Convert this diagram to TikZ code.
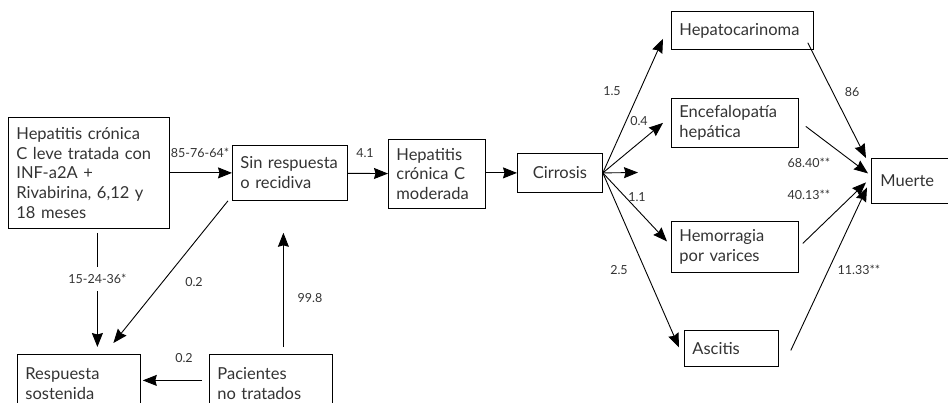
\documentclass[tikz,border=0pt]{standalone}
\usepackage{fontspec}
\setmainfont{Lato}
\definecolor{txGris}{HTML}{333333}
\usetikzlibrary{arrows.meta}

\begin{document}
\begin{tikzpicture}[x=1pt, y=-1pt,
    caja/.style={draw, line width=0.8pt, anchor=north west, align=left,
      inner xsep=8pt, text=txGris, font=\fontsize{16.5}{19.8}\selectfont},
    etiq/.style={text=txGris, inner sep=1pt, font=\fontsize{12.5}{14}\selectfont},
    flecha/.style={line width=0.9pt, -{Stealth[length=14pt, width=11pt, inset=1.5pt]}}]
  \useasboundingbox (0,0) rectangle (948,402);
  \clip (0,0) rectangle (948,402);

  % estados
  \node[caja, minimum width=161pt, minimum height=111pt, text width=145pt] (leve) at (8,117)
    {Hepatitis crónica\\C leve tratada con\\INF-a2A +\\Rivabirina, 6,12 y\\18 meses};
  \node[caja, minimum width=115pt, minimum height=55pt, text width=99pt] (sinr) at (232,145)
    {Sin respuesta\\o recidiva};
  \node[caja, minimum width=97pt, minimum height=69pt, text width=81pt] (mode) at (388,139)
    {Hepatitis\\crónica C\\moderada};
  \node[caja, minimum width=85pt, minimum height=39pt, text width=69pt, align=center] (cirr) at (517,153)
    {Cirrosis};
  \node[caja, minimum width=142pt, minimum height=38pt, text width=126pt] (hepa) at (671,11)
    {Hepatocarinoma};
  \node[caja, minimum width=127pt, minimum height=49pt, text width=111pt] (ence) at (671,98)
    {Encefalopatía\\hepática};
  \node[caja, minimum width=127pt, minimum height=51pt, text width=111pt] (hemo) at (671,221)
    {Hemorragia\\por varices};
  \node[caja, minimum width=94pt, minimum height=36pt, text width=78pt] (asci) at (684,330)
    {Ascitis};
  \node[caja, minimum width=95pt, minimum height=45pt, text width=79pt, inner xsep=9pt] (muer) at (871,158)
    {Muerte};
  \node[caja, minimum width=123pt, minimum height=58pt, text width=107pt] (resp) at (17,354)
    {Respuesta\\sostenida};
  \node[caja, minimum width=123pt, minimum height=58pt, text width=107pt] (paci) at (209,354)
    {Pacientes\\no tratados};
  \coordinate (fin) at (638,172.5);

  % transiciones
  \draw[flecha] (leve) -- (sinr);
  \draw[flecha] (sinr) -- (mode);
  \draw[flecha] (mode.east |- cirr) -- (cirr);
  \draw[flecha] (cirr.east) -- (fin);
  \draw[flecha] (cirr.east) -- ([xshift=-8pt,yshift=11pt]hepa.south west);
  \draw[flecha] (cirr.east) -- ([xshift=-8pt]ence.west);
  \draw[flecha] (cirr.east) -- ([xshift=-4pt,yshift=5.5pt]hemo.west);
  \draw[flecha] (cirr.east) -- ([xshift=-5pt,yshift=1pt]asci.west);
  \draw[flecha] ([xshift=-6pt,yshift=7pt]hepa.south east) -- ([xshift=-5pt]muer.north west);
  \draw[flecha] ([xshift=7pt,yshift=-3.5pt]ence.east) -- ([xshift=-3pt,yshift=7.5pt]muer.west);
  \draw[flecha] ([xshift=4pt,yshift=3.5pt]hemo.east) -- ([xshift=-5pt,yshift=-1.5pt]muer.west);
  \draw[flecha] ([xshift=12pt,yshift=-2pt]asci.east) -- ([xshift=-4pt,yshift=-6.5pt]muer.west);
  \draw[flecha, shorten <=4pt, shorten >=7pt] ([xshift=8.5pt]leve.south) --
    node[etiq, fill=white, inner ysep=7pt, pos=0.4] (e15) {15-24-36*} ([xshift=18.5pt]resp.north);
  \draw[flecha] ([xshift=-4pt]sinr.south west) -- ([xshift=34.5pt,yshift=11pt]resp.north);
  \draw[flecha, shorten <=7pt, shorten >=32pt] ([xshift=12.5pt]paci.north) -- ([xshift=-6.5pt]sinr.south);
  \draw[flecha, shorten <=7pt, shorten >=2pt] ([yshift=3pt]paci.west) -- ([yshift=3pt]resp.east);

  % probabilidades
  \node[etiq] (e85) at (200,153) {85-76-64*};
  \node[etiq] (e41) at (365,153) {4.1};
  \node[etiq] (e02a) at (194,282) {0.2};
  \node[etiq] (e998) at (310,298) {99.8};
  \node[etiq] (e02b) at (184,358) {0.2};
  \node[etiq] (e15b) at (612,91) {1.5};
  \node[etiq] (e04) at (639,121) {0.4};
  \node[etiq] (e11) at (637,197) {1.1};
  \node[etiq] (e25) at (619,270) {2.5};
  \node[etiq] (e86) at (852,92) {86};
  \node[etiq] (e68) at (809,163) {68.40**};
  \node[etiq] (e40) at (809,195) {40.13**};
  \node[etiq] (e113) at (859,270) {11.33**};
\end{tikzpicture}
\end{document}
